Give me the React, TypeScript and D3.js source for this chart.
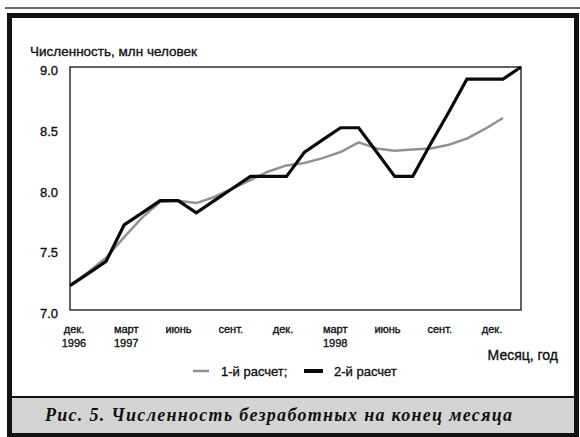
import React from "react";
import * as d3 from "d3";

// Month index 0 = Dec 1996 ... 25 = Jan 1999
const calc1: number[] = [7.2, 7.31, 7.43, 7.6, 7.76, 7.89, 7.9, 7.88, 7.93, 8.0, 8.07, 8.14, 8.19, 8.21, 8.25, 8.3, 8.38, 8.33, 8.31, 8.32, 8.33, 8.36, 8.41, 8.49, 8.58];
const calc2: number[] = [7.2, 7.3, 7.4, 7.7, 7.8, 7.9, 7.9, 7.8, 7.9, 8.0, 8.1, 8.1, 8.1, 8.3, 8.4, 8.5, 8.5, 8.3, 8.1, 8.1, 8.37, 8.63, 8.9, 8.9, 8.9, 9.0];
const monthCount = 26;
const yTicks: number[] = [7.0, 7.5, 8.0, 8.5, 9.0];
const xLabels: string[][] = [
  ["дек.", "1996"],
  ["март", "1997"],
  ["июнь"],
  ["сент."],
  ["дек."],
  ["март", "1998"],
  ["июнь"],
  ["сент."],
  ["дек."],
];
const yTitle = "Численность, млн человек";
const xTitle = "Месяц, год";
const legend1 = "1-й расчет;";
const legend2 = "2-й расчет";
const caption = "Рис. 5. Численность безработных на конец месяца";

const W = 580;
const H = 437;
const plot = { left: 70, right: 521, top: 67, bottom: 310 };
const sans = "'Liberation Sans', Arial, sans-serif";
const ink = "#111";
const textStyle = { stroke: ink, strokeWidth: 0.35 } as React.CSSProperties;

export default function App() {
  const x = d3.scaleLinear().domain([0, monthCount - 1]).range([plot.left, plot.right]);
  const y = d3.scaleLinear().domain([7.0, 9.0]).range([plot.bottom, plot.top]);
  const labelX = d3.scalePoint<number>().domain(xLabels.map((_, i) => i)).range([74, 492]);
  const line = d3
    .line<number>()
    .x((_, i) => x(i))
    .y((d) => y(d));

  return (
    <svg
      width={W}
      height={H}
      viewBox={`0 0 ${W} ${H}`}
      style={{ position: "absolute", left: 0, top: 0, background: "#fff" }}
    >
      <rect x={0} y={0} width={W} height={H} fill="#fff" />
      {/* thin top rule */}
      <line x1={5} x2={W} y1={8} y2={8} stroke="#333" strokeWidth={1.5} />
      {/* caption band */}
      <rect x={12} y={397} width={562} height={36} fill="#d4d4d4" />
      <line x1={12} x2={574} y1={397} y2={397} stroke={ink} strokeWidth={2} />
      <text
        x={45}
        y={421}
        fontFamily="'Liberation Serif', 'Times New Roman', serif"
        fontStyle="italic"
        fontWeight="bold"
        fontSize={18}
        textLength={467}
        lengthAdjust="spacing"
        fill={ink}
      >
        {caption}
      </text>
      {/* outer frame */}
      <rect x={9.5} y={15.5} width={567} height={420} fill="none" stroke={ink} strokeWidth={5} />

      {/* y title */}
      <text x={30} y={56} fontFamily={sans} fontSize={13.5} fill={ink} style={textStyle}>
        {yTitle}
      </text>

      {/* y tick labels */}
      {yTicks.map((t) => (
        <text
          key={t}
          x={58}
          y={y(t) + 8}
          textAnchor="end"
          fontFamily={sans}
          fontSize={13}
          fill={ink}
          style={textStyle}
        >
          {t.toFixed(1)}
        </text>
      ))}

      {/* x labels */}
      {xLabels.map((lines, i) => (
        <text
          key={i}
          x={labelX(i)}
          textAnchor="middle"
          fontFamily={sans}
          fontSize={11}
          fill={ink}
          style={textStyle}
        >
          {lines.map((l, j) => (
            <tspan key={j} x={labelX(i)} y={333 + j * 14}>
              {l}
            </tspan>
          ))}
        </text>
      ))}

      <text x={558} y={360} textAnchor="end" fontFamily={sans} fontSize={14} fill={ink} style={textStyle}>
        {xTitle}
      </text>

      {/* plot frame */}
      <rect
        x={plot.left}
        y={plot.top}
        width={plot.right - plot.left}
        height={plot.bottom - plot.top}
        fill="none"
        stroke={ink}
        strokeWidth={1.3}
      />

      {/* series */}
      <path d={line(calc1) || ""} fill="none" stroke="#929292" strokeWidth={2.5} strokeLinejoin="round" />
      <path d={line(calc2) || ""} fill="none" stroke="#0a0a0a" strokeWidth={3.2} strokeLinejoin="miter" />

      {/* legend */}
      <line x1={193} x2={209} y1={371} y2={371} stroke="#929292" strokeWidth={2.5} />
      <text x={221} y={376} fontFamily={sans} fontSize={13} fill={ink} style={textStyle}>
        {legend1}
      </text>
      <line x1={304} x2={323} y1={371} y2={371} stroke="#0a0a0a" strokeWidth={4} />
      <text x={334} y={376} fontFamily={sans} fontSize={13} fill={ink} style={textStyle}>
        {legend2}
      </text>
    </svg>
  );
}
